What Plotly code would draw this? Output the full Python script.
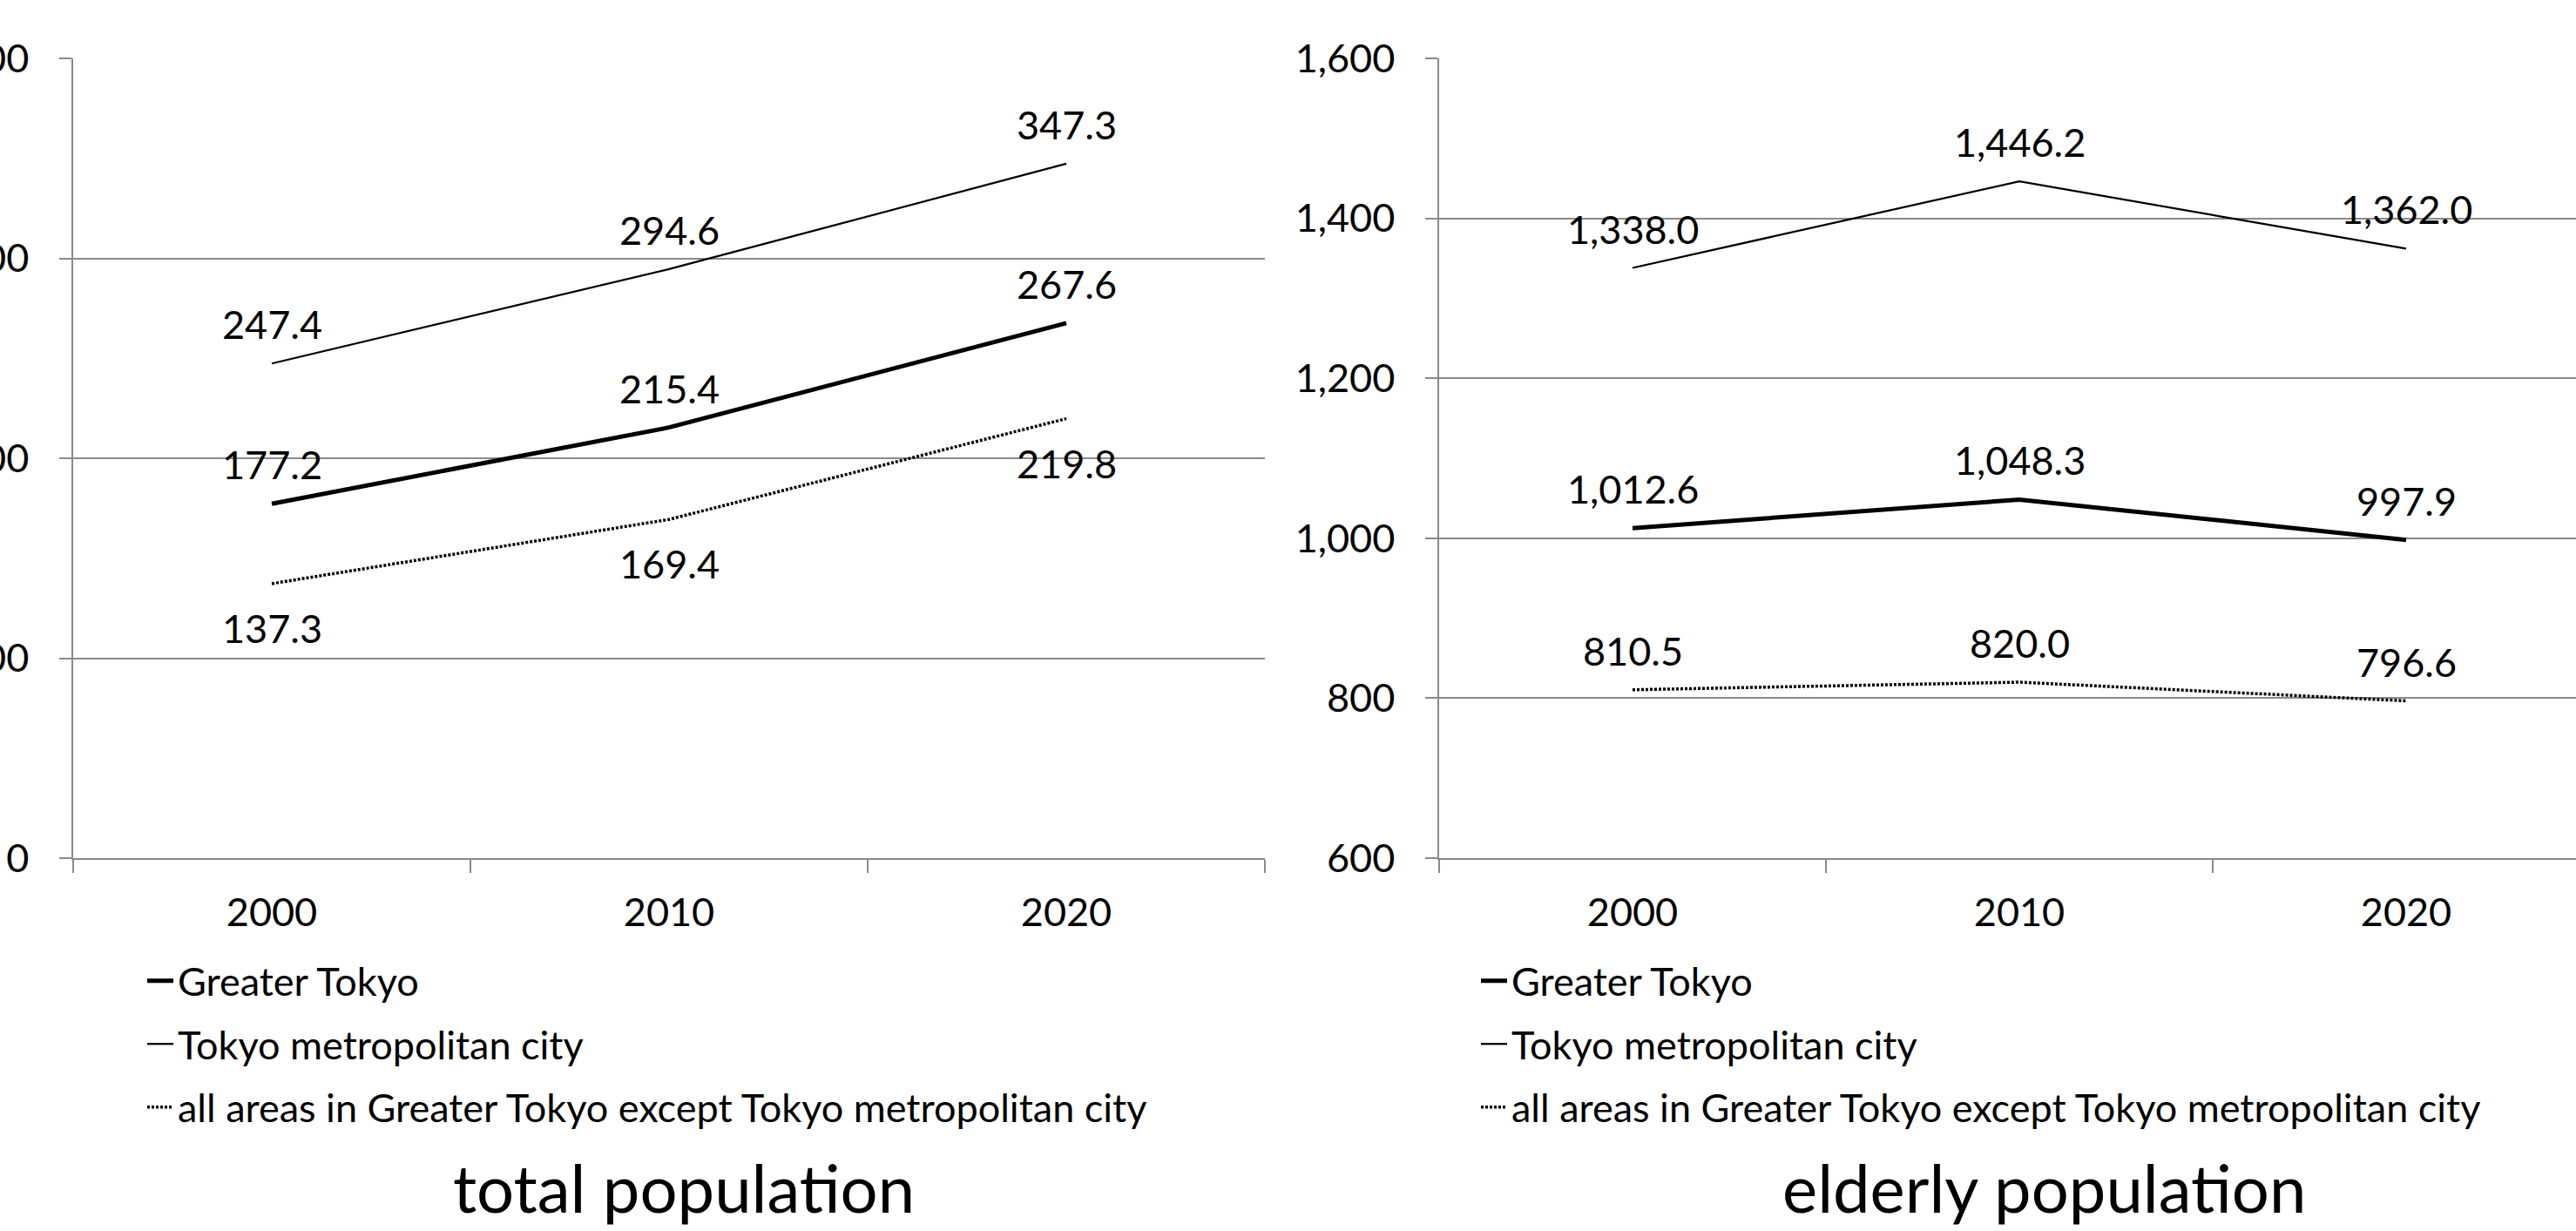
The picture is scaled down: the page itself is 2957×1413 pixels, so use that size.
import plotly.graph_objects as go

# ---- data ----
years = ["2000", "2010", "2020"]
series_names = ["Greater Tokyo", "Tokyo metropolitan city",
                "all areas in Greater Tokyo except Tokyo metropolitan city"]

total_greater = [177.2, 215.4, 267.6]
total_metro = [247.4, 294.6, 347.3]
total_other = [137.3, 169.4, 219.8]

elderly_greater = [1012.6, 1048.3, 997.9]
elderly_metro = [1338.0, 1446.2, 1362.0]
elderly_other = [810.5, 820.0, 796.6]

total_ticks = [0, 100, 200, 300, 400]
elderly_ticks = [600, 800, 1000, 1200, 1400, 1600]

# ---- style ----
W, H = 2957, 1413
FONT = "Lato"
FS = 45
GRID = "#8a8a8a"
line_styles = [dict(color="black", width=5),
               dict(color="black", width=2.25),
               dict(color="black", width=3.5, dash="3px,2px")]

fig = go.Figure()

def add_chart(series, xa, ya, legend_name, below_flags):
    for k, (vals, name) in enumerate(zip(series, series_names)):
        fig.add_trace(go.Scatter(
            x=years, y=vals, mode="lines", name=name,
            line=line_styles[k], xaxis=xa, yaxis=ya,
            legend=legend_name, legendgroup=legend_name + str(k),
            hoverinfo="skip"))
        for i, yv in enumerate(vals):
            fig.add_annotation(
                x=i, y=yv, xref=xa, yref=ya, text=f"{yv:,.1f}",
                showarrow=False, yanchor="middle", xanchor="center",
                yshift=-51 if below_flags[k] else 45,
                font=dict(family=FONT, size=FS, color="black"))

add_chart([total_greater, total_metro, total_other], "x", "y", "legend",
          [False, False, True])
add_chart([elderly_greater, elderly_metro, elderly_other], "x2", "y2", "legend2",
          [False, False, False])

ydom = [1 - 985 / H, 1 - 67 / H]

common_x = dict(type="category", tickson="boundaries", ticks="outside",
                ticklen=15, tickwidth=1.5, tickcolor=GRID, showline=True,
                linecolor=GRID, linewidth=2, showgrid=False, zeroline=False,
                tickfont=dict(family=FONT, size=FS, color="black"),
                ticklabelstandoff=22, fixedrange=True, automargin=False)
common_y = dict(ticks="outside", ticklen=14, tickwidth=1.5, tickcolor=GRID,
                showline=True, linecolor=GRID, linewidth=1.5,
                showgrid=True, gridcolor=GRID, gridwidth=2, zeroline=False,
                tickfont=dict(family=FONT, size=FS, color="black"),
                ticklabelstandoff=26, domain=ydom, fixedrange=True,
                automargin=False)

x1_dom = [84 / W, 1452 / W]
x2_dom = [1652 / W, 1.0]
x2_span = (W - 1652) / 444.0

fig.update_layout(
    width=W, height=H,
    margin=dict(l=0, r=0, t=0, b=0, pad=0, autoexpand=False),
    paper_bgcolor="white", plot_bgcolor="white",
    font=dict(family=FONT, size=FS, color="black"),
    xaxis=dict(domain=x1_dom, range=[-0.5, 2.5], anchor="y", **common_x),
    yaxis=dict(range=[0, 400], tickvals=total_ticks, anchor="x", **common_y),
    xaxis2=dict(domain=x2_dom, range=[-0.5, x2_span - 0.5], anchor="y2", **common_x),
    yaxis2=dict(range=[600, 1600], tickvals=elderly_ticks, tickformat=",",
                anchor="x2", **common_y),
    legend=dict(x=164 / W, y=1 - 1090 / H, xanchor="left", yanchor="top",
                font=dict(family=FONT, size=FS, color="black"),
                tracegroupgap=11, bgcolor="rgba(0,0,0,0)"),
    legend2=dict(x=1695 / W, y=1 - 1090 / H, xanchor="left", yanchor="top",
                 font=dict(family=FONT, size=FS, color="black"),
                 tracegroupgap=11, bgcolor="rgba(0,0,0,0)"),
    showlegend=True,
)

fig.add_annotation(text="total population", x=785 / W, y=1 - 1362 / H,
                   xref="paper", yref="paper", showarrow=False,
                   xanchor="center", yanchor="middle",
                   font=dict(family=FONT, size=76, color="black"))
fig.add_annotation(text="elderly population", x=2346 / W, y=1 - 1362 / H,
                   xref="paper", yref="paper", showarrow=False,
                   xanchor="center", yanchor="middle",
                   font=dict(family=FONT, size=76, color="black"))

fig.write_html("out.html")
